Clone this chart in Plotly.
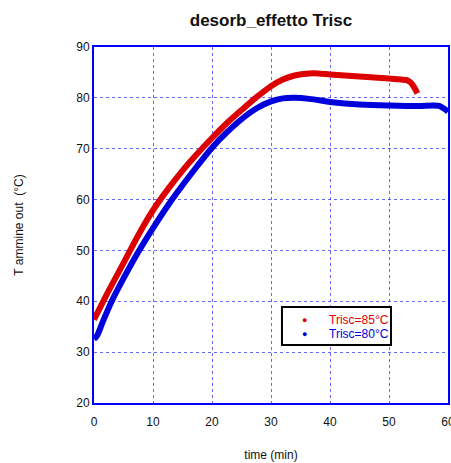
import plotly.graph_objects as go

# Outlet ammine temperature during desorption for two heating temperatures
series_names = ["Trisc=85°C", "Trisc=80°C"]

time_85 = [0, 2.5, 5, 7.5, 10, 12.5, 15, 17.5, 20, 22.5, 25, 27.5, 30, 32, 34, 36.5,
           38, 40, 42.5, 45, 47.5, 50, 52, 53, 53.7, 54.2, 54.8]
temp_85 = [36.4, 42.1, 47.5, 53.0, 57.9, 62.0, 65.7, 69.0, 72.1, 75.0, 77.6, 80.1, 82.3, 83.6,
           84.4, 84.8, 84.8, 84.6, 84.4, 84.2, 84.0, 83.8, 83.6, 83.5, 83.0, 82.2, 80.9]

time_80 = [0, 0.5, 1.5, 3, 5, 7.5, 10, 12.5, 15, 17.5, 20, 22.5, 25, 27.5, 30, 32, 34,
           36.5, 40, 42.5, 45, 50, 55, 57.5, 58.5, 59.3, 60]
temp_80 = [32.6, 33.2, 36.0, 40.0, 44.5, 49.7, 54.4, 58.8, 62.8, 66.6, 70.2, 73.2, 75.8, 77.9,
           79.3, 79.9, 80.0, 79.8, 79.2, 78.9, 78.7, 78.5, 78.4, 78.5, 78.4, 77.9, 77.3]

x_ticks = [0, 10, 20, 30, 40, 50, 60]
y_ticks = [20, 30, 40, 50, 60, 70, 80, 90]

RED = "#dd0000"
BLUE = "#0000dd"
GRID = "rgba(40,40,240,0.7)"
FONT = "Liberation Sans, Arial"

fig = go.Figure()
fig.add_trace(go.Scatter(x=time_85, y=temp_85, mode="lines", name=series_names[0],
                         line=dict(color=RED, width=6, shape="spline", smoothing=0.8)))
fig.add_trace(go.Scatter(x=time_80, y=temp_80, mode="lines", name=series_names[1],
                         line=dict(color=BLUE, width=6, shape="spline", smoothing=0.8)))

axis_common = dict(
    showgrid=True, gridcolor=GRID, griddash="dot", gridwidth=1,
    showline=True, linecolor="#0000ff", linewidth=2, mirror=True,
    zeroline=False, automargin=False, ticklabeloverflow="allow",
    tickfont=dict(family=FONT, size=12, color="#111111"),
)

# boxed legend: a dot and a coloured label per series
legend_box = dict(type="rect", xref="paper", yref="paper",
                  x0=0.531, x1=0.839, y0=0.163, y1=0.2697,
                  line=dict(color="black", width=2), fillcolor="white", layer="above")
legend_rows = [0.2331, 0.1938]
annotations = []
for name, color, yrow in zip(series_names, [RED, BLUE], legend_rows):
    annotations.append(dict(text="●", x=0.596, y=yrow, xref="paper", yref="paper",
                            showarrow=False, xanchor="center", yanchor="middle",
                            font=dict(family=FONT, size=9, color=color)))
    annotations.append(dict(text=name, x=0.658, y=yrow, xref="paper", yref="paper",
                            showarrow=False, xanchor="left", yanchor="middle",
                            font=dict(family=FONT, size=12, color=color)))

fig.update_layout(
    width=451, height=463,
    margin=dict(l=94, r=3, t=47, b=60, autoexpand=False),
    paper_bgcolor="white", plot_bgcolor="white",
    showlegend=False,
    title=dict(text="<b>desorb_effetto Trisc</b>", x=(94 + 448) / 2 / 451, xanchor="center",
               y=1 - 20 / 463, yanchor="middle",
               font=dict(family=FONT, size=17, color="#111111")),
    xaxis=dict(range=[0, 60], tickvals=x_ticks,
               ticks="outside", ticklen=7, tickcolor="rgba(0,0,0,0)",
               title=dict(text="time (min)", standoff=22,
                          font=dict(family=FONT, size=12, color="#111111")), **axis_common),
    yaxis=dict(range=[20, 90], tickvals=y_ticks, ticks="",
               title=dict(text="T ammine out  (°C)", standoff=50,
                          font=dict(family=FONT, size=12, color="#111111")), **axis_common),
    shapes=[legend_box],
    annotations=annotations,
)

fig.write_html("out.html")
